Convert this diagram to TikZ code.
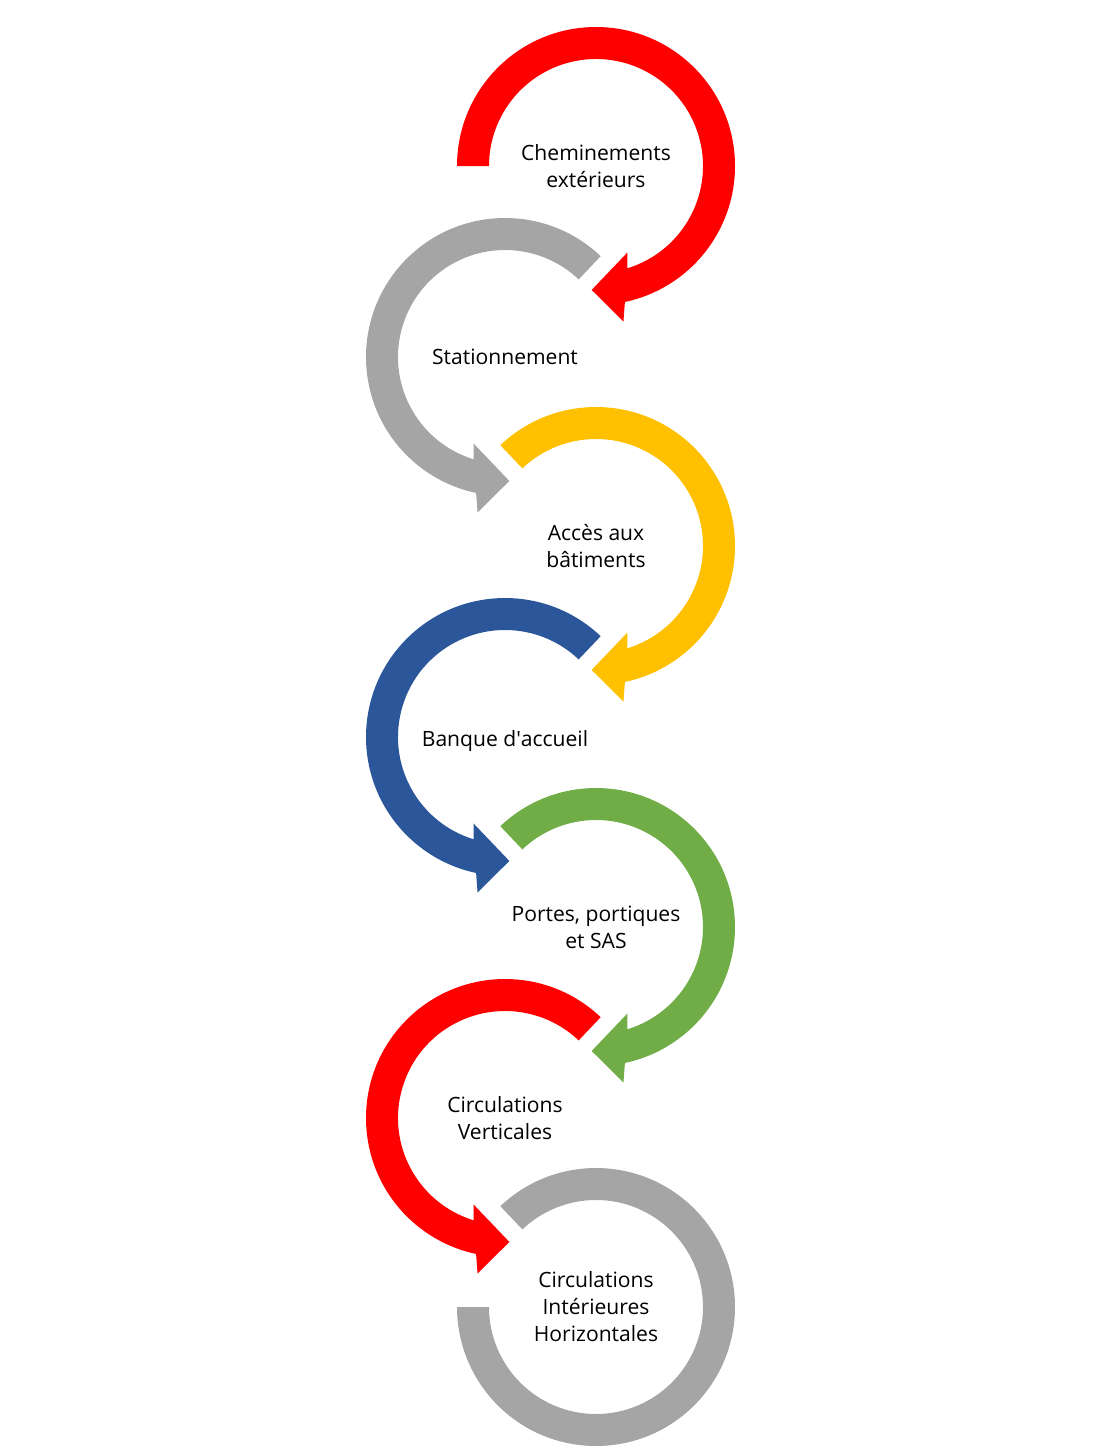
\documentclass[tikz,border=0pt]{standalone}
\usepackage{fontspec}
\setmainfont{Open Sans}
\definecolor{ringred}{HTML}{FF0000}
\definecolor{ringgray}{HTML}{A5A5A5}
\definecolor{ringyellow}{HTML}{FFC000}
\definecolor{ringblue}{HTML}{2B579A}
\definecolor{ringgreen}{HTML}{70AD47}
\tikzset{
  % start, shaft end outer, head outer, tip, head inner, shaft end inner
  pics/ringarrow/.style n args={6}{code={
    \fill (#1:139) arc[start angle=#1, end angle=#2, radius=139]
      -- (#3:158) -- (#4:124) -- (#5:92) -- (#6:107)
      arc[start angle=#6, end angle=#1, radius=107] -- cycle;
  }},
  pics/ringend/.style 2 args={code={
    \fill (#1:139) arc[start angle=#1, end angle=#2, radius=139]
      -- (#2:107) arc[start angle=#2, end angle=#1, radius=107] -- cycle;
  }},
}
\begin{document}
\begin{tikzpicture}[x=0.02cm,y=0.02cm]

        \useasboundingbox (0,0) rectangle (1100,-1451);

        \coordinate (1) at (596,-166);
        \coordinate (2) at (505,-357);
        \coordinate (3) at (596,-546);
        \coordinate (4) at (505,-737);
        \coordinate (5) at (596,-927);
        \coordinate (6) at (505,-1118);
        \coordinate (7) at (596,-1307);

        \pic[color=ringred]    at (1) {ringarrow={180}{-78}{-80}{-92}{-70}{-73}};
        \pic[color=ringgray]   at (2) {ringarrow={46.5}{258}{260}{272}{250}{253}};
        \pic[color=ringyellow] at (3) {ringarrow={133.5}{-78}{-80}{-92}{-70}{-73}};
        \pic[color=ringblue]   at (4) {ringarrow={46.5}{258}{260}{272}{250}{253}};
        \pic[color=ringgreen]  at (5) {ringarrow={133.5}{-78}{-80}{-92}{-70}{-73}};
        \pic[color=ringred]    at (6) {ringarrow={46.5}{258}{260}{272}{250}{253}};
        \pic[color=ringgray]   at (7) {ringend={133.5}{-180}};

        \begin{scope}[every node/.style={align=center,font=\fontsize{12pt}{15.4pt}\selectfont}]
          \node (chemin)  at (1) {Cheminements\\extérieurs};
          \node (station) at (2) {Stationnement};
          \node (acces)   at (3) {Accès aux\\bâtiments};
          \node (banque)  at ([yshift=-2]4) {Banque d\textquotesingle accueil};
          \node (portes)  at (5) {Portes, portiques\\et SAS};
          \node (vert)    at (6) {Circulations\\Verticales};
          \node (horiz)   at (7) {Circulations\\Intérieures\\Horizontales};
        \end{scope}

      \end{tikzpicture}
\end{document}
